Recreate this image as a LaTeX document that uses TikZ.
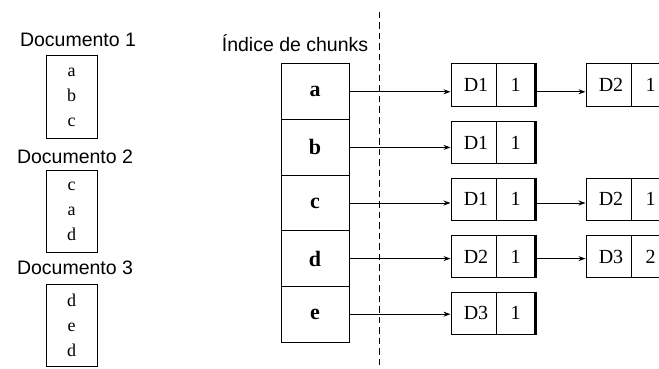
\documentclass[tikz,border=0pt]{standalone}
\usepackage{fontspec}
\setmainfont{Liberation Serif}
\newfontfamily\sansf{Liberation Sans}
\usetikzlibrary{arrows.meta}
\begin{document}
\begin{tikzpicture}[x=1pt,y=-1pt, line width=1pt,
 doclabel/.style={font=\sansf\fontsize{19.5}{22}\selectfont, inner sep=0pt},
 docbox/.style={draw, minimum width=51pt, minimum height=82pt, inner sep=0pt, align=center, font=\fontsize{18}{25}\selectfont},
 idxcell/.style={draw, minimum width=68pt, minimum height=55.6pt, inner sep=0pt, font=\bfseries\fontsize{22}{24}\selectfont},
 namecell/.style={draw, minimum width=45pt, minimum height=42pt, inner sep=0pt, font=\fontsize{20}{22}\selectfont},
 cntcell/.style={draw, minimum width=39pt, minimum height=42pt, inner sep=0pt, font=\fontsize{20}{22}\selectfont},
 link/.style={-{Stealth[length=7pt,width=5pt]}},
 sepline/.style={dash pattern=on 6.5pt off 4pt}
]
\clip (0,0) rectangle (659,369);
\fill[white] (0,0) rectangle (659,369);

% documents
\node[doclabel] (t1) at (78,40) {Documento 1};
\node[docbox] (doc1) at (71.5,97) {a\\b\\c};
\node[doclabel] (t2) at (75,157) {Documento 2};
\node[docbox] (doc2) at (71.5,211) {c\\a\\d};
\node[doclabel] (t3) at (75,268) {Documento 3};
\node[docbox] (doc3) at (71.5,325) {d\\e\\d};

% index
\node[doclabel] (title) at (295,43) {Índice de chunks};
\node[idxcell] (ia) at (315,91.8) {a};
\node[idxcell] (ib) at (315,147.4) {b};
\node[idxcell] (ic) at (315,203) {c};
\node[idxcell] (id) at (315,258.6) {d};
\node[idxcell] (ie) at (315,314.2) {e};

% dashed separator
\coordinate (dtop) at (379,12);
\coordinate (dbot) at (379,369);
\draw[sepline] (dtop) -- (dbot);

% posting lists, first column
\node[namecell] (a1) at (473.5,85) {\hspace*{5pt}D1};
\node[cntcell] (a1c) at (515.5,85) {1};
\node[namecell] (b1) at (473.5,142.5) {\hspace*{5pt}D1};
\node[cntcell] (b1c) at (515.5,142.5) {1};
\node[namecell] (c1) at (473.5,199) {\hspace*{5pt}D1};
\node[cntcell] (c1c) at (515.5,199) {1};
\node[namecell] (d1) at (473.5,256.5) {\hspace*{5pt}D2};
\node[cntcell] (d1c) at (515.5,256.5) {1};
\node[namecell] (e1) at (473.5,313) {\hspace*{5pt}D3};
\node[cntcell] (e1c) at (515.5,313) {1};
\foreach \n in {a1c,b1c,c1c,d1c,e1c}
  \draw[line width=2.5pt] (\n.north east) -- (\n.south east);

% second column
\node[namecell] (a2) at (608.5,85) {\hspace*{5pt}D2};
\node[cntcell] (a2c) at (650.5,85) {1};
\node[namecell] (c2) at (608.5,199) {\hspace*{5pt}D2};
\node[cntcell] (c2c) at (650.5,199) {1};
\node[namecell] (d2) at (608.5,256.5) {\hspace*{5pt}D3};
\node[cntcell] (d2c) at (650.5,256.5) {2};

% arrows
\draw[link] (ia.east) -- (ia.east -| a1.west);
\draw[link] (ib.east) -- (ib.east -| b1.west);
\draw[link] (ic.east) -- (ic.east -| c1.west);
\draw[link] (id.east) -- (id.east -| d1.west);
\draw[link] (ie.east) -- (ie.east -| e1.west);
\draw[link] (ia.east -| a1c.east) -- (ia.east -| a2.west);
\draw[link] (ic.east -| c1c.east) -- (ic.east -| c2.west);
\draw[link] (id.east -| d1c.east) -- (id.east -| d2.west);
\end{tikzpicture}
\end{document}
